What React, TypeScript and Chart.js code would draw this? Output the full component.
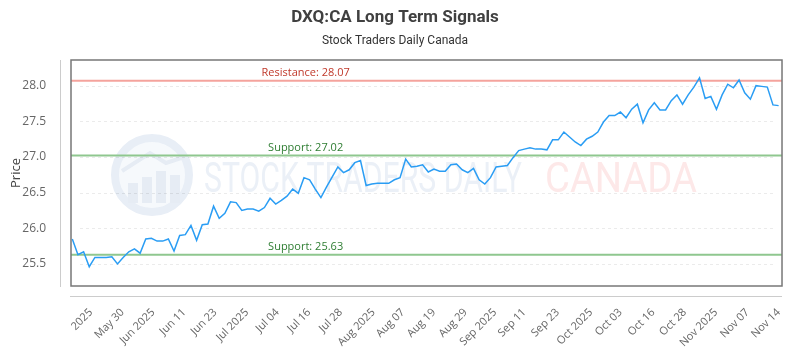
import React, { useEffect, useRef } from 'react';
import { Chart, registerables } from 'chart.js';

Chart.register(...registerables);

const TITLE = 'DXQ:CA Long Term Signals';
const SUBTITLE = 'Stock Traders Daily Canada';
const Y_TITLE = 'Price';

const PRICES = [
  25.85, 25.63, 25.67, 25.46, 25.59, 25.59, 25.59, 25.60, 25.50, 25.59,
  25.67, 25.71, 25.65, 25.85, 25.86, 25.82, 25.82, 25.85, 25.68, 25.90,
  25.91, 26.04, 25.83, 26.05, 26.06, 26.31, 26.14, 26.21, 26.37, 26.36,
  26.25, 26.27, 26.27, 26.24, 26.29, 26.42, 26.34, 26.39, 26.45, 26.55,
  26.49, 26.71, 26.68, 26.55, 26.43, 26.58, 26.72, 26.86, 26.78, 26.82,
  26.92, 26.95, 26.60, 26.62, 26.63, 26.63, 26.63, 26.68, 26.71, 26.97,
  26.86, 26.87, 26.89, 26.79, 26.83, 26.80, 26.80, 26.89, 26.90, 26.82,
  26.78, 26.84, 26.68, 26.62, 26.71, 26.86, 26.87, 26.88, 26.99, 27.09,
  27.11, 27.13, 27.11, 27.11, 27.10, 27.24, 27.24, 27.35, 27.28, 27.21,
  27.16, 27.25, 27.29, 27.35, 27.49, 27.58, 27.58, 27.63, 27.55, 27.67,
  27.74, 27.48, 27.66, 27.76, 27.66, 27.66, 27.79, 27.87, 27.74, 27.87,
  27.98, 28.11, 27.82, 27.85, 27.67, 27.87, 28.02, 27.97, 28.08, 27.90,
  27.81, 28.00, 27.99, 27.98, 27.73, 27.72,
];

// x-axis tick positions (in data-point index units) and their labels
const TICK_POS = [
  3.3, 8.9, 14.3, 19.8, 25.3, 30.9, 36.3, 41.9, 47.5, 53.3, 58.5, 64.0,
  69.6, 74.8, 80.0, 85.9, 91.8, 97.0, 102.8, 108.4, 113.9, 119.5, 125,
];
const TICK_LABELS = [
  '2025', 'May 30', 'Jun 2025', 'Jun 11', 'Jun 23', 'Jul 2025', 'Jul 04',
  'Jul 16', 'Jul 28', 'Aug 2025', 'Aug 07', 'Aug 19', 'Aug 29', 'Sep 2025',
  'Sep 11', 'Sep 23', 'Oct 2025', 'Oct 03', 'Oct 16', 'Oct 28', 'Nov 2025',
  'Nov 07', 'Nov 14',
];

const Y_TICKS = [25.5, 26.0, 26.5, 27.0, 27.5, 28.0];

const LEVEL_VALUES = [28.07, 27.02, 25.63];
const LEVEL_NAMES = ['Resistance', 'Support', 'Support'];
const LEVEL_LINE_COLORS = ['#f4a39d', '#8fc78f', '#8fc78f'];
const LEVEL_TEXT_COLORS = ['#c0392b', '#2e7d32', '#2e7d32'];

const decorPlugin = {
  id: 'decor',
  beforeDatasetsDraw(chart: any) {
    const { ctx, chartArea: ca, scales } = chart;
    const y = scales.y;
    ctx.save();

    // watermark logo
    const cx = ca.left + 81;
    const cy = ca.top + 115;
    ctx.beginPath();
    ctx.arc(cx, cy, 37, 0, Math.PI * 2);
    ctx.fillStyle = 'rgba(244,247,251,0.8)';
    ctx.fill();
    ctx.lineWidth = 8;
    ctx.strokeStyle = '#e8eef6';
    ctx.stroke();
    ctx.fillStyle = '#e6ecf4';
    const bars = [[-24, 20], [-10, 26], [4, 32], [18, 28]];
    bars.forEach(([bx, bh]) => {
      ctx.fillRect(cx + bx, cy + 28 - bh, 10, bh);
    });
    ctx.beginPath();
    ctx.moveTo(cx - 30, cy - 4);
    ctx.lineTo(cx - 2, cy - 22);
    ctx.lineTo(cx + 14, cy - 12);
    ctx.lineTo(cx + 32, cy - 18);
    ctx.lineWidth = 4;
    ctx.strokeStyle = '#e6ecf4';
    ctx.stroke();

    // watermark text
    const drawStretched = (text: string, x0: number, x1: number, base: number, color: string) => {
      ctx.font = '400 42px Roboto';
      const w = ctx.measureText(text).width;
      ctx.save();
      ctx.translate(x0, base);
      ctx.scale((x1 - x0) / w, 1);
      ctx.fillStyle = color;
      ctx.textAlign = 'left';
      ctx.textBaseline = 'alphabetic';
      ctx.fillText(text, 0, 0);
      ctx.restore();
    };
    drawStretched('STOCK TRADERS DAILY', ca.left + 133, ca.left + 451, ca.top + 132, '#ebf0f7');
    drawStretched('CANADA', ca.left + 474, ca.left + 626, ca.top + 132, '#fde8e8');

    // dashed grid lines
    ctx.setLineDash([3, 3]);
    ctx.lineWidth = 1;
    ctx.strokeStyle = 'rgba(0,0,0,0.08)';
    Y_TICKS.forEach((v) => {
      const py = Math.round(y.getPixelForValue(v)) + 0.5;
      ctx.beginPath();
      ctx.moveTo(ca.left + 9, py);
      ctx.lineTo(ca.right - 7, py);
      ctx.stroke();
    });
    ctx.setLineDash([]);

    // support / resistance lines
    LEVEL_VALUES.forEach((v, i) => {
      const py = y.getPixelForValue(v);
      ctx.beginPath();
      ctx.moveTo(ca.left, py);
      ctx.lineTo(ca.right, py);
      ctx.lineWidth = 2;
      ctx.strokeStyle = LEVEL_LINE_COLORS[i];
      ctx.stroke();
      ctx.font = '11px "Open Sans"';
      ctx.fillStyle = LEVEL_TEXT_COLORS[i];
      ctx.textAlign = 'center';
      ctx.textBaseline = 'alphabetic';
      ctx.fillText(`${LEVEL_NAMES[i]}: ${v.toFixed(2)}`, ca.left + ca.width * 0.33, py - 4.5);
    });
    ctx.restore();
  },
  afterDraw(chart: any) {
    const { ctx, chartArea: ca } = chart;
    ctx.save();
    ctx.lineWidth = 1;
    ctx.strokeStyle = '#cccccc';
    ctx.beginPath();
    ctx.moveTo(ca.left - 10.5, ca.top);
    ctx.lineTo(ca.left - 10.5, ca.bottom + 1);
    ctx.moveTo(ca.left - 1, ca.bottom + 10.5);
    ctx.lineTo(ca.right, ca.bottom + 10.5);
    ctx.stroke();
    ctx.lineWidth = 1.5;
    ctx.strokeStyle = '#777777';
    ctx.strokeRect(ca.left, ca.top, ca.width, ca.height);
    ctx.restore();
  },
};

export default function App() {
  const ref = useRef<HTMLCanvasElement | null>(null);

  useEffect(() => {
    if (!ref.current) return;
    Chart.defaults.font.family = "'Open Sans', sans-serif";
    const chart = new Chart(ref.current, {
      type: 'line',
      data: {
        datasets: [
          {
            label: 'Price',
            data: PRICES.map((v, i) => ({ x: i, y: v })),
            borderColor: '#2a9df4',
            backgroundColor: '#2a9df4',
            borderWidth: 1.5,
            pointRadius: 0,
            tension: 0,
            fill: false,
          },
        ],
      },
      options: {
        responsive: false,
        animation: false,
        layout: { padding: { left: 0, right: 10, top: 0, bottom: 0 } },
        plugins: {
          legend: { display: false },
          tooltip: { enabled: false },
          title: {
            display: true,
            text: TITLE,
            color: '#404040',
            font: { family: 'Roboto', size: 17, weight: 'bold' },
            padding: { top: 8, bottom: 5 },
          },
          subtitle: {
            display: true,
            text: SUBTITLE,
            color: '#333333',
            font: { family: 'Roboto', size: 12 },
            padding: { top: 0, bottom: 12.2 },
          },
        },
        scales: {
          x: {
            type: 'linear',
            min: -0.23,
            max: 125.6,
            grid: { display: false },
            border: { display: false },
            afterBuildTicks: (scale: any) => {
              scale.ticks = TICK_POS.map((v) => ({ value: v }));
            },
            afterFit: (scale: any) => {
              scale.height = 64;
            },
            ticks: {
              autoSkip: false,
              maxRotation: 45,
              minRotation: 45,
              padding: 12,
              color: '#666666',
              font: { size: 11 },
              callback: (_v: any, i: number) => TICK_LABELS[i],
            },
          },
          y: {
            type: 'linear',
            min: 25.19,
            max: 28.36,
            grid: { display: false },
            border: { display: false },
            afterBuildTicks: (scale: any) => {
              scale.ticks = Y_TICKS.map((v) => ({ value: v }));
            },
            afterFit: (scale: any) => {
              scale.width = 71;
            },
            title: {
              display: true,
              text: Y_TITLE,
              color: '#444444',
              font: { size: 13 },
              padding: { top: 8, bottom: 0 },
            },
            ticks: {
              padding: 17,
              color: '#666666',
              font: { size: 12 },
              callback: (v: any) => Number(v).toFixed(1),
            },
          },
        },
      },
      plugins: [decorPlugin],
    });
    return () => chart.destroy();
  }, []);

  return (
    <div style={{ position: 'absolute', left: 0, top: 0, width: 800, height: 350, background: '#fff' }}>
      <canvas ref={ref} width={800} height={350} style={{ display: 'block' }} />
    </div>
  );
}
